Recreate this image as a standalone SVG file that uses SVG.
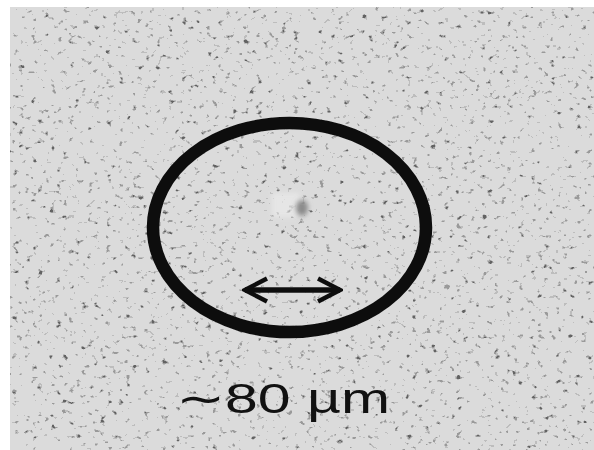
<svg xmlns="http://www.w3.org/2000/svg" width="594" height="450" viewBox="0 0 594 450">
  <defs>
    <filter id="speckle" x="10" y="7" width="584" height="443" filterUnits="userSpaceOnUse">
      <feTurbulence type="fractalNoise" baseFrequency="0.16 0.2" numOctaves="2" seed="7" result="t"/>
      <feColorMatrix in="t" type="matrix" values="0 0 0 0 0  0 0 0 0 0  0 0 0 0 0  1.6 0 0 0 -0.35"/>
      <feComponentTransfer>
        <feFuncA type="discrete" tableValues="0 0 0 0 0 0 0 0.14 0.3 0.55"/>
      </feComponentTransfer>
    </filter>
    <filter id="blur1" x="0" y="0" width="594" height="450" filterUnits="userSpaceOnUse"><feGaussianBlur stdDeviation="0.6"/></filter>
    <filter id="blur3" x="0" y="0" width="594" height="450" filterUnits="userSpaceOnUse"><feGaussianBlur stdDeviation="2.5"/></filter>
    <marker id="head" viewBox="0 0 10 10" refX="9" refY="5" markerWidth="5" markerHeight="5.4" orient="auto-start-reverse" markerUnits="strokeWidth">
      <path d="M1,0.8 L9,5 L1,9.2" fill="none" stroke="#111" stroke-width="1.6" stroke-linejoin="miter"/>
    </marker>
    <style>
      .ink { fill: none; stroke: #111; }
      .label { font-family: "Liberation Sans", Arial, sans-serif; fill: #111; }
    </style>
  </defs>

  <rect x="0" y="0" width="594" height="450" fill="#ffffff"/>
  <g id="background">
    <rect x="10" y="7" width="584" height="443" fill="#dbdbdb"/>
    <rect x="10" y="7" width="584" height="443" fill="#000" filter="url(#speckle)"/>
    <rect x="272" y="193" width="28" height="24" fill="#eeeeee" opacity="0.6" filter="url(#blur3)"/>
    <ellipse cx="302" cy="208" rx="6" ry="8" fill="#8a8a8a" filter="url(#blur3)"/>
  </g>

  <g id="ring">
    <ellipse class="ink" cx="289.5" cy="227.5" rx="136.5" ry="104.5" stroke-width="12.5" filter="url(#blur1)"/>
  </g>

  <g id="scale-arrow" filter="url(#blur1)">
    <line class="ink" x1="245" y1="290" x2="340" y2="290" stroke-width="5.5" marker-start="url(#head)" marker-end="url(#head)"/>
  </g>

  <g id="scale-label">
    <text class="label" x="176" y="413" font-size="42" textLength="214" lengthAdjust="spacingAndGlyphs">∼80 µm</text>
  </g>
</svg>
